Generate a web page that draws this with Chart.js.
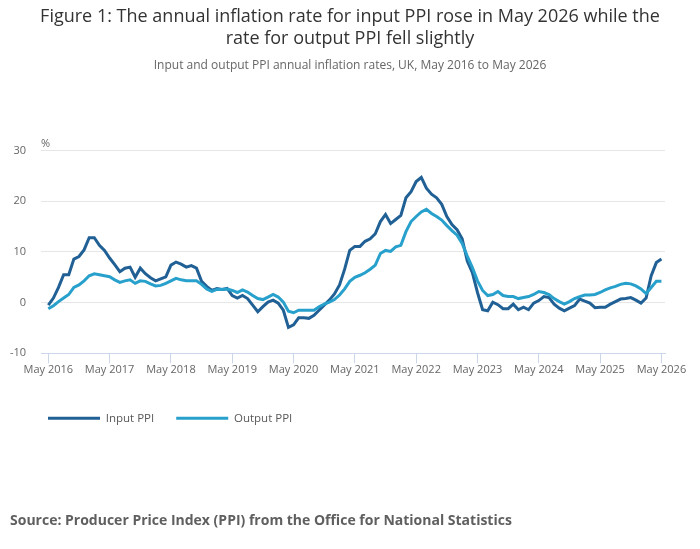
<!DOCTYPE html>
<html>
<head>
<meta charset="utf-8">
<script src="https://cdn.jsdelivr.net/npm/chart.js@4.4.1/dist/chart.umd.min.js"></script>
<style>
  html, body { margin: 0; padding: 0; background: #ffffff; }
  canvas { display: block; }
</style>
</head>
<body>
<canvas id="chart" width="700" height="549"></canvas>
<script>
// ---- Data (monthly, May 2016 to May 2026) ----
const titleLines = ['Figure 1: The annual inflation rate for input PPI rose in May 2026 while the', 'rate for output PPI fell slightly'];
const subtitleText = 'Input and output PPI annual inflation rates, UK, May 2016 to May 2026';
const sourceText = 'Source: Producer Price Index (PPI) from the Office for National Statistics';
const seriesNames = ['Input PPI', 'Output PPI'];

const monthNames = ['Jan','Feb','Mar','Apr','May','Jun','Jul','Aug','Sep','Oct','Nov','Dec'];
const categories = [];
for (let i = 0; i <= 120; i++) {
  const m = (4 + i) % 12;
  const y = 2016 + Math.floor((4 + i) / 12);
  categories.push(monthNames[m] + ' ' + y);
}

const tickLabels = ['May 2016','May 2017','May 2018','May 2019','May 2020','May 2021','May 2022','May 2023','May 2024','May 2025','May 2026'];
const yTicks = [-10, 0, 10, 20, 30];

const inputPPI = [
  -0.5, 0.9, 3.0, 5.5, 5.5, 8.6, 9.1, 10.4, 12.8, 12.8, 11.3, 10.3,
  8.8, 7.5, 6.1, 6.8, 7.0, 5.0, 6.8, 5.7, 4.9, 4.3, 4.7, 5.1,
  7.4, 8.0, 7.6, 7.0, 7.3, 6.8, 4.2, 3.2, 2.4, 2.8, 2.6, 2.8,
  1.4, 0.9, 1.4, 0.8, -0.5, -1.8, -0.8, 0.1, 0.5, -0.1, -1.5, -4.9,
  -4.4, -3.0, -3.0, -3.1, -2.5, -1.5, -0.5, 0.5, 1.7, 3.5, 6.6, 10.3,
  11.1, 11.1, 12.1, 12.6, 13.6, 16.0, 17.4, 15.6, 16.4, 17.2, 20.7, 21.9,
  23.9, 24.7, 22.6, 21.4, 20.7, 19.4, 17.0, 15.4, 14.4, 12.6, 8.2, 5.9,
  2.0, -1.4, -1.6, 0.1, -0.4, -1.2, -1.2, -0.3, -1.4, -0.9, -1.4, -0.1,
  0.4, 1.2, 1.0, -0.3, -1.1, -1.6, -1.1, -0.6, 0.7, 0.3, -0.1, -1.0,
  -0.9, -0.9, -0.3, 0.2, 0.7, 0.8, 1.0, 0.5, -0.1, 0.9, 5.3, 7.9,
  8.6
];

const outputPPI = [
  -1.2, -0.6, 0.2, 0.9, 1.6, 3.0, 3.5, 4.3, 5.3, 5.7, 5.5, 5.3,
  5.1, 4.5, 4.0, 4.3, 4.5, 3.8, 4.3, 4.2, 3.7, 3.3, 3.4, 3.8,
  4.3, 4.8, 4.5, 4.3, 4.3, 4.3, 3.6, 2.7, 2.2, 2.6, 2.6, 2.7,
  2.4, 2.0, 2.5, 2.1, 1.4, 0.8, 0.6, 1.1, 1.6, 1.1, 0.1, -1.7,
  -2.0, -1.5, -1.5, -1.5, -1.5, -0.8, -0.3, 0.1, 0.6, 1.5, 2.7, 4.2,
  5.0, 5.4, 5.9, 6.6, 7.4, 9.7, 10.3, 10.1, 11.0, 11.3, 14.0, 16.0,
  17.0, 17.9, 18.4, 17.6, 17.0, 16.3, 15.2, 14.2, 13.3, 11.7, 9.2, 6.9,
  4.3, 2.4, 1.4, 1.6, 2.2, 1.4, 1.2, 1.2, 0.8, 1.0, 1.2, 1.6,
  2.2, 2.0, 1.6, 0.8, 0.2, -0.3, 0.2, 0.8, 1.2, 1.5, 1.5, 1.6,
  2.0, 2.5, 2.9, 3.2, 3.6, 3.8, 3.7, 3.3, 2.7, 1.8, 3.0, 4.2,
  4.2
];

// ---- Styles ----
const FONT = '"Open Sans", "Noto Sans", sans-serif';
const colInput = '#206095';
const colOutput = '#27a0cc';

const toPoints = arr => arr.map((v, i) => ({ x: i, y: v, label: categories[i] }));
const tickPositions = tickLabels.map(lbl => categories.indexOf(lbl));

const extrasPlugin = {
  id: 'extras',
  afterLayout(chart) {
    // centre title and subtitle across the full canvas width
    chart.boxes.forEach(b => {
      if (b.options && b.options.text !== undefined && b.position === 'top') {
        b.left = 0;
        b.right = chart.width;
        b.width = chart.width;
      }
    });
    // legend starts under the plot area
    if (chart.legend) {
      chart.legend.left = 26;
    }
  },
  afterDraw(chart) {
    const ctx = chart.ctx;
    const ca = chart.chartArea;
    ctx.save();
    ctx.fillStyle = '#666666';
    ctx.font = '11px ' + FONT;
    ctx.textAlign = 'left';
    ctx.textBaseline = 'middle';
    ctx.fillText('%', ca.left, ca.top - 7);
    ctx.fillStyle = '#5f5f5f';
    ctx.font = 'bold 14px ' + FONT;
    ctx.fillText(sourceText, 10, 521);
    ctx.restore();
  }
};

Chart.defaults.font.family = FONT;

new Chart(document.getElementById('chart'), {
  type: 'line',
  data: {
    datasets: [
      {
        label: seriesNames[0],
        data: toPoints(inputPPI),
        borderColor: colInput,
        backgroundColor: colInput,
        borderWidth: 3,
        pointRadius: 0,
        tension: 0,
        order: 1
      },
      {
        label: seriesNames[1],
        data: toPoints(outputPPI),
        borderColor: colOutput,
        backgroundColor: colOutput,
        borderWidth: 3,
        pointRadius: 0,
        tension: 0,
        order: 0
      }
    ]
  },
  options: {
    responsive: false,
    animation: false,
    devicePixelRatio: 1,
    layout: { padding: { left: 0, right: 35, top: 0, bottom: 115 } },
    plugins: {
      title: {
        display: true,
        text: titleLines,
        color: '#333333',
        font: { size: 18, weight: 'normal', family: FONT, lineHeight: 1.2 },
        padding: { top: 6, bottom: 8 }
      },
      subtitle: {
        display: true,
        text: subtitleText,
        color: '#666666',
        font: { size: 12, weight: 'normal', family: FONT, lineHeight: 1.2 },
        padding: { top: 1, bottom: 78 }
      },
      legend: {
        display: true,
        position: 'bottom',
        align: 'start',
        labels: {
          boxWidth: 52,
          boxHeight: 3,
          padding: 22,
          color: '#595959',
          font: { size: 11.5, family: FONT },
          sort: (a, b) => a.datasetIndex - b.datasetIndex,
          generateLabels: chart => Chart.defaults.plugins.legend.labels.generateLabels(chart).map(l => Object.assign(l, { lineWidth: 0 }))
        }
      },
      tooltip: { enabled: false }
    },
    scales: {
      x: {
        type: 'linear',
        min: -1.43,
        max: 120.7,
        afterBuildTicks: s => { s.ticks = tickPositions.map(v => ({ value: v })); },
        afterFit: s => { s.height += 14; },
        ticks: {
          autoSkip: false,
          maxRotation: 0,
          padding: 0,
          color: '#666666',
          font: { size: 11, family: FONT },
          callback: (v, i) => tickLabels[i]
        },
        grid: {
          drawOnChartArea: false,
          drawTicks: true,
          tickLength: 10,
          color: '#ccd6eb',
          lineWidth: 1
        },
        border: { display: true, color: '#ccd6eb', width: 1 }
      },
      y: {
        min: yTicks[0],
        max: yTicks[yTicks.length - 1],
        afterBuildTicks: s => { s.ticks = yTicks.map(v => ({ value: v })); },
        afterFit: s => { s.width = 41; },
        ticks: {
          padding: 15,
          color: '#666666',
          font: { size: 11, family: FONT }
        },
        grid: {
          drawTicks: false,
          color: c => (c.tick && c.tick.value === yTicks[0]) ? 'rgba(0,0,0,0)' : '#e6e6e6',
          lineWidth: 1
        },
        border: { display: false }
      }
    }
  },
  plugins: [extrasPlugin]
});
</script>
</body>
</html>
